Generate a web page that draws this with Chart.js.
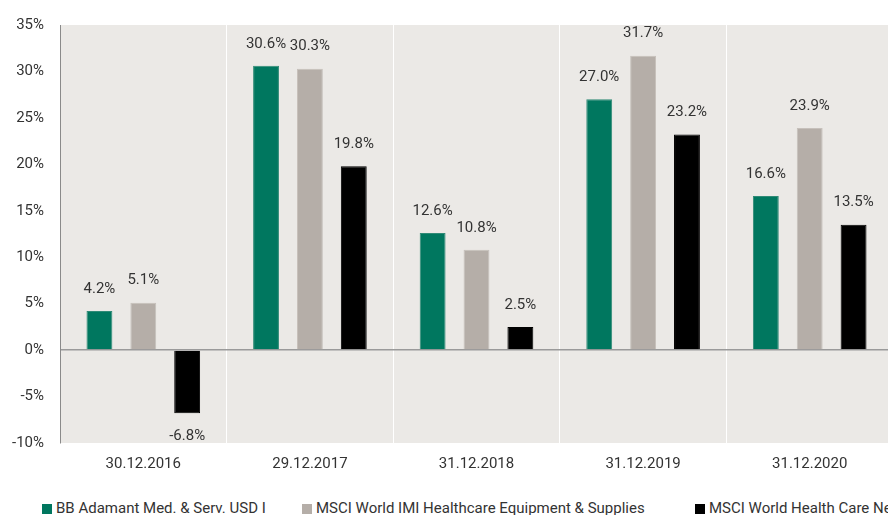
<!DOCTYPE html>
<html>
<head>
<meta charset="utf-8">
<script src="https://cdn.jsdelivr.net/npm/chart.js@4/dist/chart.umd.min.js"></script>
<style>
  html, body { margin: 0; padding: 0; background: #fff; overflow: hidden; width: 888px; height: 515px; }
  #wrap { position: relative; width: 893px; height: 480px; }
  #legend { position: absolute; top: 499px; left: 0; width: 1000px; height: 18px; font: 15px 'Liberation Sans Narrow', Roboto, sans-serif; color: #333; white-space: nowrap; }
  .item { position: absolute; top: 0; line-height: 18px; }
  .sw { display: inline-block; width: 10px; height: 10px; margin-right: 4px; vertical-align: -1px; }
</style>
</head>
<body>
<div id="wrap"><canvas id="c" width="893" height="480" style="width:893px;height:480px"></canvas></div>
<div id="legend"></div>
<script>
const categories = ['30.12.2016', '29.12.2017', '31.12.2018', '31.12.2019', '31.12.2020'];
const seriesNames = ['BB Adamant Med. & Serv. USD I', 'MSCI World IMI Healthcare Equipment & Supplies', 'MSCI World Health Care Net'];
const bbAdamant = [4.2, 30.6, 12.6, 27.0, 16.6];
const msciImiEquip = [5.1, 30.3, 10.8, 31.7, 23.9];
const msciHealthCare = [-6.8, 19.8, 2.5, 23.2, 13.5];
const yTicks = [-10, -5, 0, 5, 10, 15, 20, 25, 30, 35];

const colors = ['#00775f', '#b5aea8', '#000000'];
const borders = ['#2f8a76', '#c6c0bb', '#000000'];
const FONT = "'Liberation Sans Narrow', Roboto, sans-serif";
const TXT = '#333333';

const legendLefts = [42, 302, 695];
const leg = document.getElementById('legend');
seriesNames.forEach((n, i) => {
  const d = document.createElement('div');
  d.className = 'item';
  d.style.left = legendLefts[i] + 'px';
  d.innerHTML = '<span class="sw" style="background:' + colors[i] + '"></span>' + n;
  leg.appendChild(d);
});

const bgPlugin = {
  id: 'bg',
  beforeDraw(chart) {
    const a = chart.chartArea, ctx = chart.ctx;
    ctx.save();
    ctx.fillStyle = '#ebe9e6';
    ctx.fillRect(a.left, a.top, a.right - a.left, a.bottom - a.top);
    ctx.restore();
  }
};
const labelPlugin = {
  id: 'vlabels',
  afterDatasetsDraw(chart) {
    const ctx = chart.ctx;
    ctx.save();
    ctx.font = '15px ' + FONT;
    ctx.fillStyle = TXT;
    ctx.textAlign = 'center';
    ctx.textBaseline = 'middle';
    chart.data.datasets.forEach((ds, i) => {
      chart.getDatasetMeta(i).data.forEach((bar, j) => {
        const v = ds.data[j];
        const y = v >= 0 ? bar.y - 22 : bar.y + 23;
        ctx.fillText(v.toFixed(1) + '%', bar.x, y);
      });
    });
    ctx.restore();
  }
};

const dsList = [bbAdamant, msciImiEquip, msciHealthCare].map((d, i) => ({
  label: seriesNames[i],
  data: d,
  backgroundColor: colors[i],
  borderColor: borders[i],
  borderWidth: 1,
  borderSkipped: 'bottom',
  categoryPercentage: 0.79,
  barPercentage: 0.59
}));

new Chart(document.getElementById('c'), {
  type: 'bar',
  data: { labels: categories, datasets: dsList },
  options: {
    responsive: false,
    animation: false,
    devicePixelRatio: 1,
    layout: { padding: { top: 22, left: 0, right: 0, bottom: 0 } },
    plugins: { legend: { display: false }, tooltip: { enabled: false } },
    scales: {
      x: {
        afterFit(s) { s.height = 37; },
        grid: {
          offset: true,
          drawTicks: false,
          lineWidth: 1,
          color: c => c.index === 0 ? 'rgba(0,0,0,0)' : '#ffffff'
        },
        border: { display: false },
        ticks: { color: TXT, font: { family: FONT, size: 15 }, padding: 12 }
      },
      y: {
        min: -10, max: 35,
        afterFit(s) { s.width = 60; },
        afterBuildTicks(s) { s.ticks = yTicks.map(v => ({ value: v })); },
        grid: {
          drawTicks: false,
          lineWidth: 1.5,
          color: c => (c.tick && c.tick.value === 0) ? '#9a9a9a' : 'rgba(0,0,0,0)'
        },
        border: { display: true, color: '#8a8a8a', width: 1 },
        ticks: { color: TXT, font: { family: FONT, size: 15 }, padding: 16, callback: v => v + '%' }
      }
    }
  },
  plugins: [bgPlugin, labelPlugin]
});
</script>
</body>
</html>
